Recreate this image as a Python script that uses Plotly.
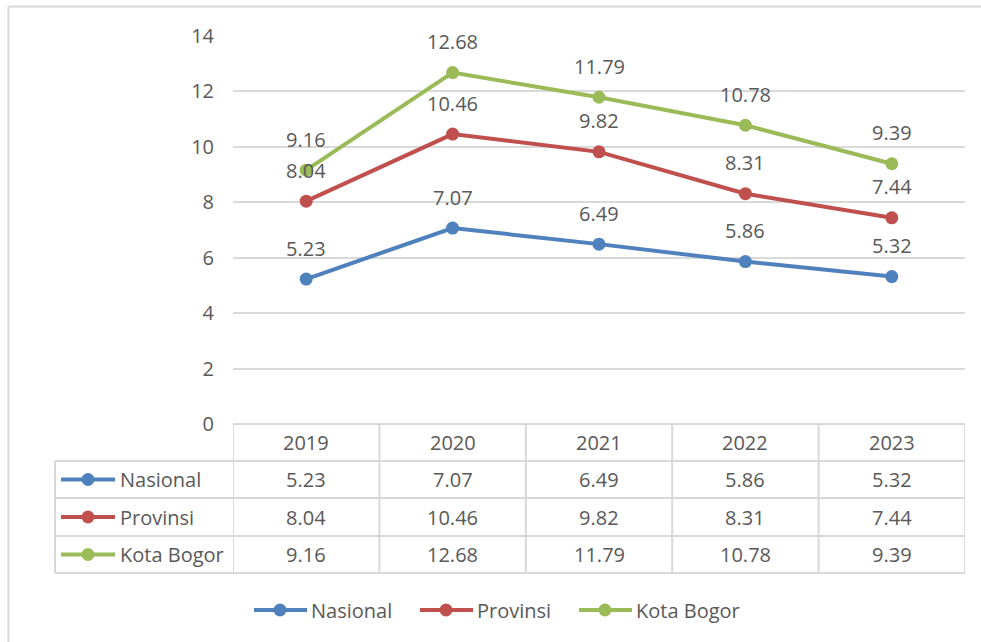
import plotly.graph_objects as go

years = ["2019", "2020", "2021", "2022", "2023"]
series_names = ["Nasional", "Provinsi", "Kota Bogor"]
nasional = [5.23, 7.07, 6.49, 5.86, 5.32]
provinsi = [8.04, 10.46, 9.82, 8.31, 7.44]
kota_bogor = [9.16, 12.68, 11.79, 10.78, 9.39]
colors = ["#4F81BD", "#C0504D", "#9BBB59"]
y_ticks = [0, 2, 4, 6, 8, 10, 12, 14]

W, H = 981, 642
FONT = "Open Sans"
TXT = "#595959"
GRID = "#D9D9D9"
FS = 20


def px(x):
    return x / W


def py(y):
    return 1 - y / H


values = [nasional, provinsi, kota_bogor]

fig = go.Figure()
for name, vals, col in zip(series_names, values, colors):
    fig.add_trace(go.Scatter(
        x=years, y=vals, name=name, mode="lines+markers",
        line=dict(color=col, width=4),
        marker=dict(color=col, size=13),
        showlegend=False, hoverinfo="skip",
    ))

annotations = []
shapes = []


def label(x, y, text, xref, yref, xanchor="center", yshift=0):
    return dict(x=x, y=y, xref=xref, yref=yref, text=text, showarrow=False,
                xanchor=xanchor, yanchor="middle", yshift=yshift,
                font=dict(family=FONT, size=FS, color=TXT))


# data labels above points
for vals in values:
    for i, v in enumerate(vals):
        annotations.append(label(i, v, f"{v:.2f}", "x", "y", yshift=31))

# table geometry (pixels)
t_top, header_bot = 424, 461
row_bounds = [461, 498, 536, 573]
left_x, plot_l, plot_r = 55, 233, 965
line_style = dict(color=GRID, width=2)

# horizontal lines
shapes.append(dict(type="line", xref="paper", yref="paper", x0=px(plot_l), x1=px(plot_r),
                   y0=py(t_top), y1=py(t_top), line=line_style))
for yb in row_bounds:
    shapes.append(dict(type="line", xref="paper", yref="paper", x0=px(left_x), x1=px(plot_r),
                       y0=py(yb), y1=py(yb), line=line_style))
# vertical lines at category boundaries
for i in range(len(years) + 1):
    shapes.append(dict(type="line", xref="x", yref="paper", x0=i - 0.5, x1=i - 0.5,
                       y0=py(t_top), y1=py(row_bounds[-1]), line=line_style))
shapes.append(dict(type="line", xref="paper", yref="paper", x0=px(left_x), x1=px(left_x),
                   y0=py(row_bounds[0]), y1=py(row_bounds[-1]), line=line_style))

# header
for i, yr in enumerate(years):
    annotations.append(label(i, py((t_top + header_bot) / 2), yr, "x", "paper"))

# rows
for r, (name, vals, col) in enumerate(zip(series_names, values, colors)):
    yc = (row_bounds[r] + row_bounds[r + 1]) / 2
    for i, v in enumerate(vals):
        annotations.append(label(i, py(yc), f"{v:.2f}", "x", "paper"))
    # legend key in table
    shapes.append(dict(type="line", xref="paper", yref="paper", x0=px(61), x1=px(115),
                       y0=py(yc), y1=py(yc), line=dict(color=col, width=4)))
    cx = 88
    shapes.append(dict(type="circle", xref="paper", yref="paper", x0=px(cx - 6.5), x1=px(cx + 6.5),
                       y0=py(yc + 6.5), y1=py(yc - 6.5), fillcolor=col, line=dict(width=0)))
    annotations.append(label(px(118), py(yc), name, "paper", "paper", xanchor="left"))

# bottom legend
leg_y = 610
leg_x = [253, 419, 578]
for name, col, lx in zip(series_names, colors, leg_x):
    shapes.append(dict(type="line", xref="paper", yref="paper", x0=px(lx + 1), x1=px(lx + 54),
                       y0=py(leg_y), y1=py(leg_y), line=dict(color=col, width=4)))
    cx = lx + 27
    shapes.append(dict(type="circle", xref="paper", yref="paper", x0=px(cx - 6.5), x1=px(cx + 6.5),
                       y0=py(leg_y + 6.5), y1=py(leg_y - 6.5), fillcolor=col, line=dict(width=0)))
    annotations.append(label(px(lx + 56), py(leg_y), name, "paper", "paper", xanchor="left"))

# outer frame (top and left visible)
shapes.append(dict(type="line", xref="paper", yref="paper", x0=px(8.5), x1=1,
                   y0=py(6.5), y1=py(6.5), line=dict(color=GRID, width=2)))
shapes.append(dict(type="line", xref="paper", yref="paper", x0=px(8.5), x1=px(8.5),
                   y0=0, y1=py(6.5), line=dict(color=GRID, width=2)))

fig.update_layout(
    width=W, height=H,
    margin=dict(l=0, r=0, t=0, b=0, pad=0, autoexpand=False),
    paper_bgcolor="white", plot_bgcolor="white",
    font=dict(family=FONT, size=FS, color=TXT),
    xaxis=dict(type="category", categoryorder="array", categoryarray=years,
               range=[-0.5, len(years) - 0.5], domain=[px(plot_l), px(plot_r)],
               showticklabels=False, showgrid=False, zeroline=False, showline=False, ticks="",
               automargin=False),
    yaxis=dict(range=[0, 14], tickvals=y_ticks, domain=[py(t_top), py(36)],
               showgrid=True, gridcolor=GRID, gridwidth=1.5, zeroline=False, showline=False,
               ticks="", ticklabelstandoff=18, automargin=False,
               tickfont=dict(family=FONT, size=FS, color=TXT)),
    annotations=annotations,
    shapes=shapes,
    showlegend=False,
)

fig.write_html(
    "out.html",
    config={"displayModeBar": False},
    post_script="document.body.style.margin='0';document.body.style.overflow='hidden';",
)
